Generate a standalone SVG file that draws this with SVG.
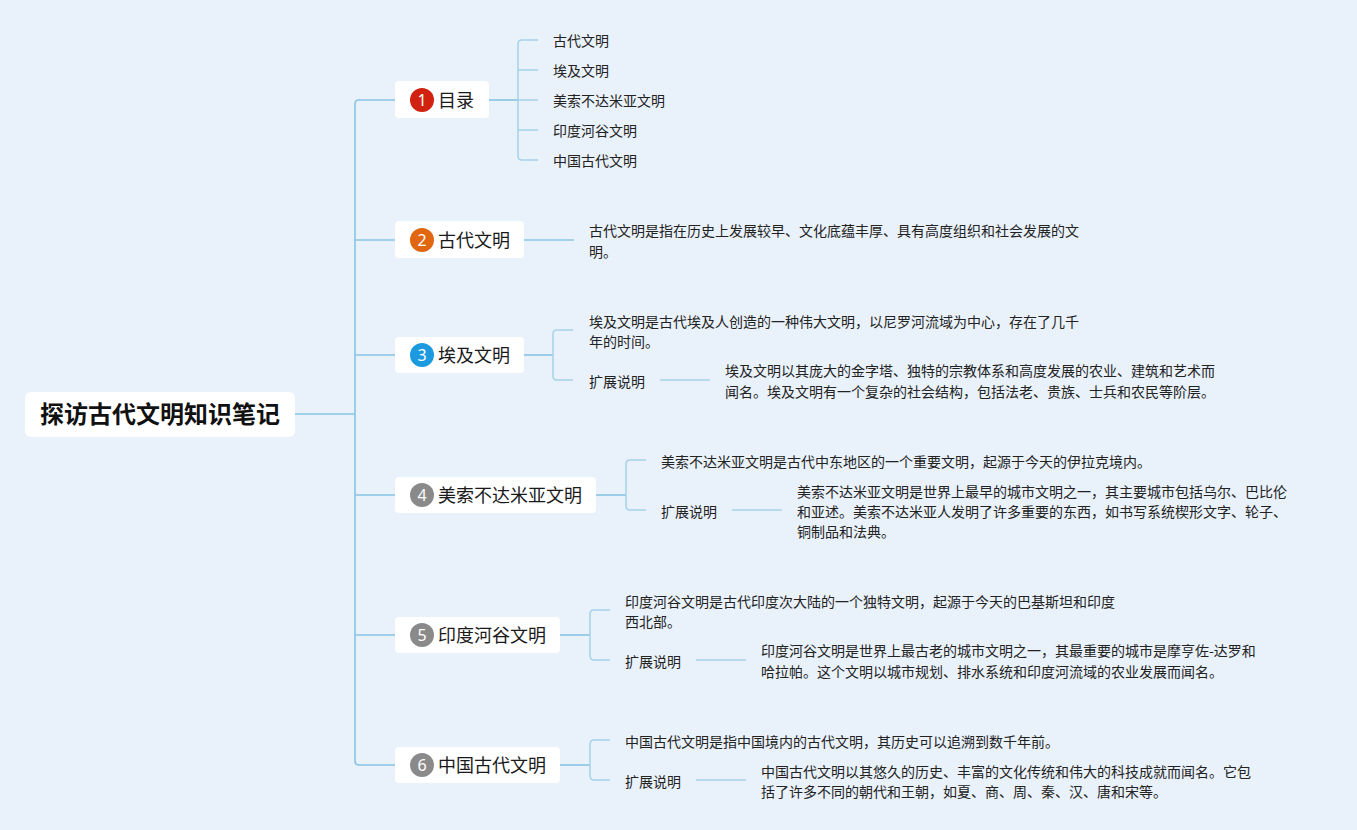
<svg xmlns="http://www.w3.org/2000/svg" width="1357" height="830" viewBox="0 0 1357 830">
<style>
.bg{fill:#e9f1fa}
.box{fill:#ffffff}
.main{fill:none;stroke:#88c4e3;stroke-width:1.6}
.sub{fill:none;stroke:#a4d2ea;stroke-width:1.5}
.root{font-family:"Noto Sans CJK SC","Noto Sans",sans-serif;font-size:24px;font-weight:bold;fill:#111}
.title{font-family:"Noto Sans CJK SC","Noto Sans",sans-serif;font-size:18px;fill:#1a1a1a}
.txt{font-family:"Noto Sans CJK SC","Noto Sans",sans-serif;font-size:14px;fill:#222}
.num{font-family:"Noto Sans","Liberation Sans",sans-serif;font-size:16px;fill:#fff;text-anchor:middle}
</style>
<rect class="bg" x="0" y="0" width="1357" height="830"/>
<g id="connectors">
<path class="main" d="M295,414 H355"/>
<path class="main" d="M395,100 H359 Q355,100 355,104 V761 Q355,765 359,765 H395"/>
<path class="main" d="M355,240 H395 M355,355 H395 M355,495 H395 M355,635 H395"/>
<path class="main" d="M489,100 H518"/>
<path class="sub" d="M538,40 H522 Q518,40 518,44 V156 Q518,160 522,160 H538 M518,70 H538 M518,100 H538 M518,130 H538"/>
<path class="main" d="M524,240 H574"/>
<path class="main" d="M524,355 H553"/>
<path class="sub" d="M573,330 H557 Q553,330 553,334 V376 Q553,380 557,380 H573"/>
<path class="sub" d="M660,380 H710"/>
<path class="main" d="M596,495 H626"/>
<path class="sub" d="M646,460 H630 Q626,460 626,464 V506 Q626,510 630,510 H646"/>
<path class="sub" d="M732,510 H782"/>
<path class="main" d="M560,635 H590"/>
<path class="sub" d="M610,610 H594 Q590,610 590,614 V656 Q590,660 594,660 H610"/>
<path class="sub" d="M696,660 H746"/>
<path class="main" d="M560,765 H590"/>
<path class="sub" d="M610,740 H594 Q590,740 590,744 V776 Q590,780 594,780 H610"/>
<path class="sub" d="M696,780 H746"/>
</g>
<g id="root">
<rect class="box" x="25" y="392" width="270" height="45" rx="6"/>
<text class="root" x="160" y="423" text-anchor="middle">探访古代文明知识笔记</text>
</g>
<g id="node1">
<rect class="box" x="395" y="81" width="94" height="37" rx="4"/>
<circle cx="422" cy="100" r="12" fill="#d0220f"/>
<text class="num" x="422" y="106">1</text>
<text class="title" x="438" y="107">目录</text>
</g>
<g id="node1-children">
<text class="txt" x="553" y="46">古代文明</text>
<text class="txt" x="553" y="76">埃及文明</text>
<text class="txt" x="553" y="106">美索不达米亚文明</text>
<text class="txt" x="553" y="136">印度河谷文明</text>
<text class="txt" x="553" y="166">中国古代文明</text>
</g>
<g id="node2">
<rect class="box" x="395" y="221" width="129" height="37" rx="4"/>
<circle cx="422" cy="240" r="12" fill="#e0660f"/>
<text class="num" x="422" y="246">2</text>
<text class="title" x="438" y="247">古代文明</text>
</g>
<g id="node2-text">
<text class="txt" x="589" y="236">古代文明是指在历史上发展较早、文化底蕴丰厚、具有高度组织和社会发展的文</text>
<text class="txt" x="589" y="257">明。</text>
</g>
<g id="node3">
<rect class="box" x="395" y="337" width="129" height="36" rx="4"/>
<circle cx="422" cy="355" r="12" fill="#1b9ae0"/>
<text class="num" x="422" y="361">3</text>
<text class="title" x="438" y="362">埃及文明</text>
</g>
<g id="node3-children">
<text class="txt" x="589" y="327">埃及文明是古代埃及人创造的一种伟大文明，以尼罗河流域为中心，存在了几千</text>
<text class="txt" x="589" y="347">年的时间。</text>
<text class="txt" x="589" y="387">扩展说明</text>
<text class="txt" x="725" y="376">埃及文明以其庞大的金字塔、独特的宗教体系和高度发展的农业、建筑和艺术而</text>
<text class="txt" x="725" y="397">闻名。埃及文明有一个复杂的社会结构，包括法老、贵族、士兵和农民等阶层。</text>
</g>
<g id="node4">
<rect class="box" x="395" y="477" width="201" height="36" rx="4"/>
<circle cx="422" cy="495" r="12" fill="#8a8a8a"/>
<text class="num" x="422" y="501">4</text>
<text class="title" x="438" y="502">美索不达米亚文明</text>
</g>
<g id="node4-children">
<text class="txt" x="661" y="467">美索不达米亚文明是古代中东地区的一个重要文明，起源于今天的伊拉克境内。</text>
<text class="txt" x="661" y="517">扩展说明</text>
<text class="txt" x="797" y="497">美索不达米亚文明是世界上最早的城市文明之一，其主要城市包括乌尔、巴比伦</text>
<text class="txt" x="797" y="517">和亚述。美索不达米亚人发明了许多重要的东西，如书写系统楔形文字、轮子、</text>
<text class="txt" x="797" y="537">铜制品和法典。</text>
</g>
<g id="node5">
<rect class="box" x="395" y="617" width="165" height="36" rx="4"/>
<circle cx="422" cy="635" r="12" fill="#8a8a8a"/>
<text class="num" x="422" y="641">5</text>
<text class="title" x="438" y="642">印度河谷文明</text>
</g>
<g id="node5-children">
<text class="txt" x="625" y="607">印度河谷文明是古代印度次大陆的一个独特文明，起源于今天的巴基斯坦和印度</text>
<text class="txt" x="625" y="627">西北部。</text>
<text class="txt" x="625" y="667">扩展说明</text>
<text class="txt" x="761" y="656">印度河谷文明是世界上最古老的城市文明之一，其最重要的城市是摩亨佐-达罗和</text>
<text class="txt" x="761" y="677">哈拉帕。这个文明以城市规划、排水系统和印度河流域的农业发展而闻名。</text>
</g>
<g id="node6">
<rect class="box" x="395" y="747" width="165" height="36" rx="4"/>
<circle cx="422" cy="765" r="12" fill="#8a8a8a"/>
<text class="num" x="422" y="771">6</text>
<text class="title" x="438" y="772">中国古代文明</text>
</g>
<g id="node6-children">
<text class="txt" x="625" y="747">中国古代文明是指中国境内的古代文明，其历史可以追溯到数千年前。</text>
<text class="txt" x="625" y="787">扩展说明</text>
<text class="txt" x="761" y="777">中国古代文明以其悠久的历史、丰富的文化传统和伟大的科技成就而闻名。它包</text>
<text class="txt" x="761" y="797">括了许多不同的朝代和王朝，如夏、商、周、秦、汉、唐和宋等。</text>
</g>
</svg>
